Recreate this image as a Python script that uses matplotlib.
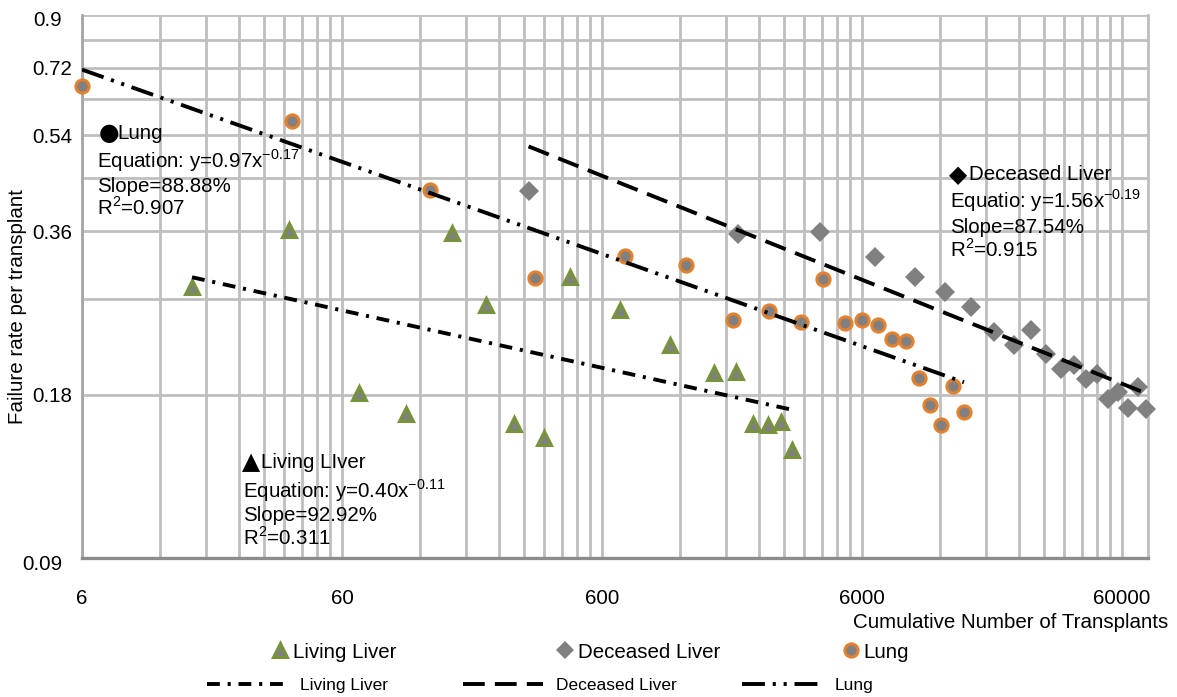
import numpy as np
import matplotlib
matplotlib.use('Agg')
import matplotlib.pyplot as plt
import matplotlib.transforms as mtransforms
from matplotlib.lines import Line2D
from matplotlib.ticker import NullFormatter

plt.rcParams['font.family'] = ['Liberation Sans', 'DejaVu Sans']
plt.rcParams['mathtext.fontset'] = 'custom'
plt.rcParams['mathtext.rm'] = 'Liberation Sans'

# cumulative number of transplants vs failure rate per transplant
living_x = [15.9, 37.6, 69.9, 106, 159, 214, 276, 360, 450, 701, 1091, 1612,
            1960, 2278, 2602, 2920, 3219]
living_y = [0.284, 0.362, 0.181, 0.166, 0.357, 0.263, 0.159, 0.150, 0.296, 0.258,
            0.222, 0.197, 0.198, 0.159, 0.158, 0.160, 0.142]

deceased_x = [313, 1994, 4126, 6718, 9578, 12497, 15733, 19293, 23033, 26778,
              30590, 34949, 39212, 43596, 48078, 53010, 57910, 63276, 69156, 74000]
deceased_y = [0.427, 0.356, 0.359, 0.323, 0.296, 0.278, 0.261, 0.235, 0.222, 0.237,
              0.214, 0.201, 0.204, 0.192, 0.196, 0.177, 0.182, 0.170, 0.186, 0.169]

lung_x = [6, 38.6, 131, 330, 733, 1258, 1908, 2625, 3486, 4237, 5150, 5986,
          6899, 7811, 8843, 9923, 10939, 12067, 13417, 14792]
lung_y = [0.666, 0.574, 0.429, 0.295, 0.324, 0.312, 0.247, 0.257, 0.245, 0.294,
          0.244, 0.247, 0.242, 0.228, 0.226, 0.193, 0.172, 0.158, 0.187, 0.167]

x_ticks = [6, 60, 600, 6000, 60000]
y_ticks = [0.09, 0.18, 0.36, 0.54, 0.72, 0.9]
y_tick_labels = ['0.09', '0.18', '0.36', '0.54', '0.72', '0.9']
y_minor = [0.27, 0.45, 0.63, 0.81]

names = ['Living Liver', 'Deceased Liver', 'Lung']

green = '#77933C'
orange = '#E3812F'
gray = '#808080'
gridc = '#BFBFBF'

W, H = 1177, 697


def power_fit(x, y):
    # same as an excel power trendline: least squares in log-log space
    b, ln_a = np.polyfit(np.log(x), np.log(y), 1)
    xs = np.geomspace(min(x), max(x), 200)
    return xs, np.exp(ln_a) * xs ** b


def ftext(px, py, s, **kw):
    # place text by pixel position on the figure
    return fig.text(px / W, 1 - py / H, s, **kw)


fig = plt.figure(figsize=(W / 100, H / 100), dpi=100)
ax = fig.add_axes([82 / W, 139 / H, 1066 / W, 543 / H])
ax.set_xscale('log')
ax.set_yscale('log')
ax.set_xlim(6, 75500)
ax.set_ylim(0.09, 0.9)

fs = 14.8

# grid at every multiple of 6 per decade, and every 0.09 on y
x_minor = [6 * k * 10 ** n for n in range(4) for k in range(2, 10)]
ax.set_xticks(x_ticks, labels=[str(v) for v in x_ticks])
ax.set_xticks(x_minor, minor=True)
ax.set_yticks(y_ticks, labels=y_tick_labels)
ax.set_yticks(y_minor, minor=True)
ax.xaxis.set_minor_formatter(NullFormatter())
ax.yaxis.set_minor_formatter(NullFormatter())
ax.grid(which='both', color=gridc, lw=2.0)
ax.set_axisbelow(True)
ax.tick_params(which='both', length=0, labelsize=fs)
ax.tick_params(axis='x', pad=22)
ax.tick_params(axis='y', pad=7)

ax.spines['top'].set_visible(False)
ax.spines['right'].set_color(gridc)
ax.spines['right'].set_linewidth(2.0)
ax.spines['left'].set_color('#A6A6A6')
ax.spines['left'].set_linewidth(2.0)
ax.spines['bottom'].set_color('#8C8C8C')
ax.spines['bottom'].set_linewidth(2.4)

# first and last y labels sit a bit to the left and lower
shift = mtransforms.ScaledTranslation(-10 / 100, -4 / 100, fig.dpi_scale_trans)
yt = ax.yaxis.get_major_ticks()
for i in (0, len(yt) - 1):
    yt[i].label1.set_transform(yt[i].label1.get_transform() + shift)

# scatter points
tri = dict(ls='none', marker='^', ms=10, mfc=gray, mec=green, mew=2.2)
dia = dict(ls='none', marker='D', ms=10.5, mfc=gray, mec=gray, mew=0)
cir = dict(ls='none', marker='o', ms=9.5, mfc=gray, mec=orange, mew=2.2)
ax.plot(living_x, living_y, clip_on=False, zorder=3, **tri)
ax.plot(deceased_x, deceased_y, clip_on=False, zorder=3, **dia)
ax.plot(lung_x, lung_y, clip_on=False, zorder=3, **cir)

# trendlines
ls_living = (0, (3.3, 2.0, 0.8, 2.0))
ls_deceased = (0, (5.6, 2.6))
ls_lung = (0, (5.9, 2.0, 0.8, 2.0, 0.8, 2.0))
lw = 2.8
xs, ys = power_fit(living_x, living_y)
ax.plot(xs, ys, color='k', lw=lw, ls=ls_living, zorder=4)
xs, ys = power_fit(deceased_x, deceased_y)
ax.plot(xs, ys, color='k', lw=lw, ls=ls_deceased, zorder=4)
xs, ys = power_fit(lung_x, lung_y)
ax.plot(xs, ys, color='k', lw=lw, ls=ls_lung, zorder=4)

# fit annotations
sym = dict(fontsize=17, va='baseline', family='DejaVu Sans')
ftext(99, 140, '\u25cf', **sym)
ftext(117, 139, 'Lung', fontsize=fs, va='baseline')
ftext(97, 168, 'Equation: y=0.97x$^{\\mathregular{-0.17}}$', fontsize=fs, va='baseline')
ftext(97, 192, 'Slope=88.88%', fontsize=fs, va='baseline')
ftext(97, 215, 'R$^{\\mathregular{2}}$=0.907', fontsize=fs, va='baseline')

ftext(949, 182, '\u25c6', **sym)
ftext(969, 180, 'Deceased Liver', fontsize=fs, va='baseline')
ftext(950, 208, 'Equatio: y=1.56x$^{\\mathregular{-0.19}}$', fontsize=fs, va='baseline')
ftext(950, 233, 'Slope=87.54%', fontsize=fs, va='baseline')
ftext(950, 257, 'R$^{\\mathregular{2}}$=0.915', fontsize=fs, va='baseline')

ftext(242, 469, '\u25b2', **sym)
ftext(261, 468, 'Living LIver', fontsize=fs, va='baseline')
ftext(243, 498, 'Equation: y=0.40x$^{\\mathregular{-0.11}}$', fontsize=fs, va='baseline')
ftext(243, 521, 'Slope=92.92%', fontsize=fs, va='baseline')
ftext(243, 545, 'R$^{\\mathregular{2}}$=0.311', fontsize=fs, va='baseline')

# axis titles
ftext(1168, 623, 'Cumulative Number of Transplants', fontsize=fs, ha='right', va='center')
ftext(18, 307, 'Failure rate per transplant', fontsize=fs, ha='center', va='center',
      rotation=90)

# legends: one entry each so the spacing follows the original
marks = [Line2D([], [], **tri), Line2D([], [], **dict(dia, ms=9.5)), Line2D([], [], **cir)]
for h, name, left in zip(marks, names, [272, 557, 843]):
    fig.legend([h], [name], loc='center left', bbox_to_anchor=(left / W, 1 - 652 / H),
               frameon=False, fontsize=fs, handlelength=0.8, handletextpad=0.2,
               borderpad=0, borderaxespad=0)
lines = [Line2D([], [], color='k', lw=lw, ls=s) for s in (ls_living, ls_deceased, ls_lung)]
for h, name, left in zip(lines, names, [207, 463, 742]):
    fig.legend([h], [name], loc='center left', bbox_to_anchor=(left / W, 1 - 685 / H),
               frameon=False, fontsize=12.5, handlelength=4.6, handletextpad=0.75,
               borderpad=0, borderaxespad=0)

fig.savefig('out.png', dpi=100)
